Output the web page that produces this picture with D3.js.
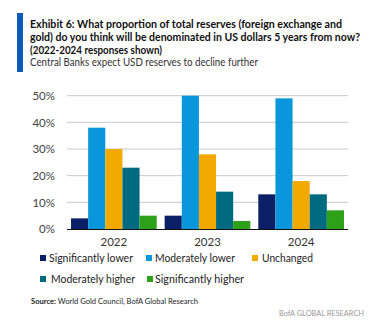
<!DOCTYPE html>
<html><head><meta charset="utf-8">
<script src="https://cdn.jsdelivr.net/npm/d3@7"></script>
<style>body{margin:0;background:#fff}svg{display:block}</style>
</head><body>
<script>
const categories = ["2022","2023","2024"];
const seriesNames = ["Significantly lower","Moderately lower","Unchanged","Moderately higher","Significantly higher"];
const sigLower = [4,5,13];
const modLower = [38,50,49];
const unchanged = [30,28,18];
const modHigher = [23,14,13];
const sigHigher = [5,3,7];
const yTicks = [0,10,20,30,40,50];
const colors = ["#0b1f66","#0a96db","#f2a900","#006b80","#2ea11a"];
const seriesValues = [sigLower,modLower,unchanged,modHigher,sigHigher];

const W=380,H=325;
const svg=d3.select("body").append("svg").attr("width",W).attr("height",H);
const font="Lato, 'Open Sans', sans-serif";

// title bar
svg.append("rect").attr("x",17).attr("y",13).attr("width",6).attr("height",59).attr("fill","#0a5cb8");
const titleLines=[
 ["Exhibit 6: What proportion of total reserves (foreign exchange and",312,24],
 ["gold) do you think will be denominated in US dollars 5 years from now?",330,37],
 ["(2022-2024 responses shown)",132,50]];
titleLines.forEach(t=>{
 svg.append("text").attr("x",30).attr("y",t[2]+4).attr("font-family",font).attr("font-weight","bold")
  .attr("font-size",11.5).attr("fill","#111").attr("textLength",t[1]).attr("lengthAdjust","spacingAndGlyphs").text(t[0]);
});
svg.append("text").attr("x",30).attr("y",66).attr("font-family",font).attr("font-size",11)
 .attr("fill","#333").attr("textLength",228).attr("lengthAdjust","spacingAndGlyphs").text("Central Banks expect USD reserves to decline further");

const x0=d3.scaleBand().domain(categories).range([67,348]).paddingInner(0.085).paddingOuter(0.043);
const x1=d3.scaleBand().domain(seriesNames).range([0,x0.bandwidth()]);
const y=d3.scaleLinear().domain([0,50]).range([229,95.7]);

// grid
svg.append("g").selectAll("line").data(yTicks.filter(d=>d>0)).join("line")
 .attr("x1",67).attr("x2",348).attr("y1",d=>y(d)).attr("y2",d=>y(d)).attr("stroke","#c8c8c8").attr("stroke-width",1);

// y axis labels
const yAxis=d3.axisLeft(y).tickValues(yTicks).tickFormat(d=>d+"%").tickSize(0).tickPadding(0);
const ga=svg.append("g").attr("transform","translate(55,0)").call(yAxis);
ga.select(".domain").remove();
ga.selectAll("text").attr("font-family",font).attr("font-size",11.5).attr("fill","#444");

// bars
const g=svg.append("g");
categories.forEach((c,ci)=>{
 seriesNames.forEach((s,si)=>{
  g.append("rect").attr("x",x0(c)+x1(s)).attr("width",x1.bandwidth())
   .attr("y",y(seriesValues[si][ci])).attr("height",y(0)-y(seriesValues[si][ci])).attr("fill",colors[si]);
 });
});

// baseline
svg.append("line").attr("x1",67).attr("x2",348).attr("y1",y(0)+0.5).attr("y2",y(0)+0.5).attr("stroke","#111").attr("stroke-width",1.2);

// x axis
const xAxis=d3.axisBottom(x0).tickSize(0).tickPadding(0);
const gx=svg.append("g").attr("transform",`translate(0,${y(0)+9})`).call(xAxis);
gx.select(".domain").remove();
gx.selectAll("text").attr("font-family",font).attr("font-size",11.5).attr("fill","#333");

// legend
const legendItems=[
 {i:0,sx:40,tx:49,ty:258,w:84},
 {i:1,sx:146,tx:155,ty:258,w:80},
 {i:2,sx:252,tx:262,ty:258,w:51},
 {i:3,sx:40,tx:51,ty:279,w:84},
 {i:4,sx:147,tx:155,ty:279,w:89}];
legendItems.forEach(l=>{
 svg.append("rect").attr("x",l.sx).attr("y",l.ty-3).attr("width",6).attr("height",6).attr("fill",colors[l.i]);
 svg.append("text").attr("x",l.tx).attr("y",l.ty+4).attr("font-family",font).attr("font-size",11.5)
  .attr("fill","#222").attr("textLength",l.w).attr("lengthAdjust","spacingAndGlyphs").text(seriesNames[l.i]);
});

// source
const st=svg.append("text").attr("x",31).attr("y",304).attr("font-family",font).attr("font-size",8)
 .attr("fill","#222").attr("textLength",167).attr("lengthAdjust","spacingAndGlyphs");
st.append("tspan").attr("font-weight","bold").text("Source:");
st.append("tspan").text(" World Gold Council, BofA Global Research");
svg.append("text").attr("x",364).attr("y",316).attr("text-anchor","end").attr("font-family",font).attr("font-size",8)
 .attr("fill","#999").attr("textLength",85).attr("lengthAdjust","spacingAndGlyphs").text("BofA GLOBAL RESEARCH");
</script>
</body></html>
